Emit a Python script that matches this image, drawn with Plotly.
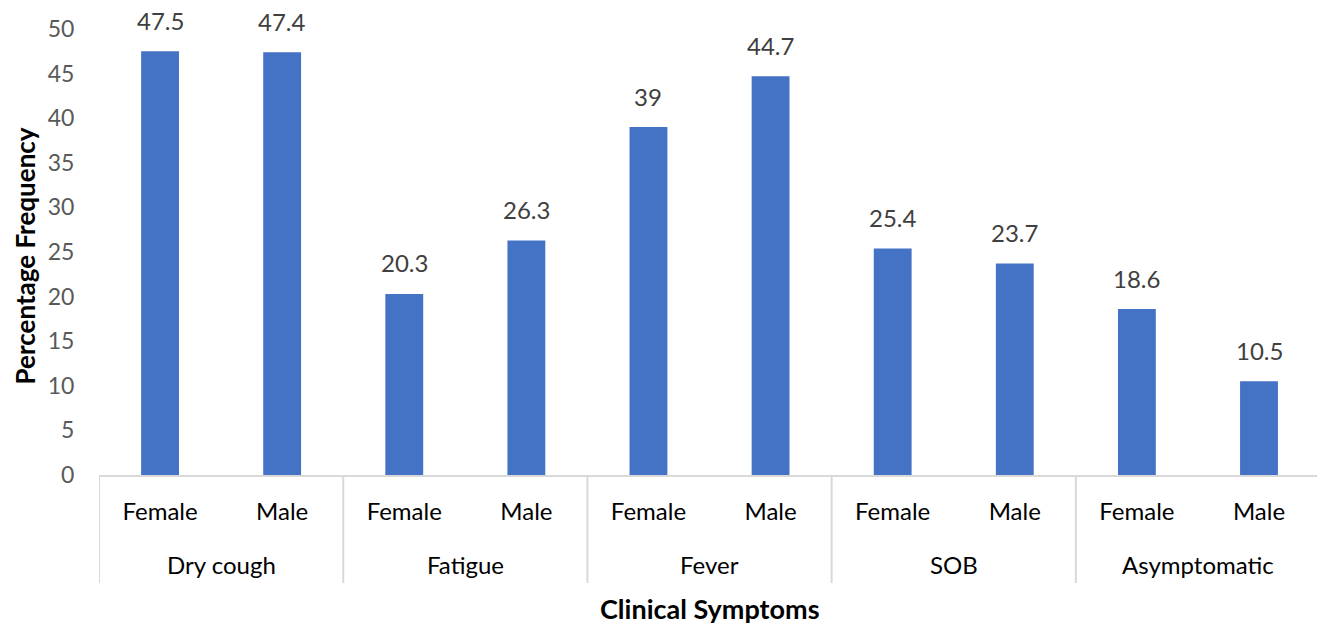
import plotly.graph_objects as go

symptoms = ["Dry cough", "Fatigue", "Fever", "SOB", "Asymptomatic"]
genders = ["Female", "Male"]
values = [47.5, 47.4, 20.3, 26.3, 39, 44.7, 25.4, 23.7, 18.6, 10.5]
y_ticks = list(range(0, 55, 5))

n_g = len(genders)
x_pos = list(range(len(values)))
x_text = [g for _ in symptoms for g in genders]
labels = [f"{v:g}" for v in values]

FONT = "Lato"
W, H = 1317, 625
ML, MT, MB = 99, 29, 150
plot_h = H - MT - MB

fig = go.Figure(go.Bar(
    x=x_pos, y=values,
    marker=dict(color="#4472C4", line=dict(width=0)),
    width=0.31, hoverinfo="y",
))

ann = []
# data labels
for x, v, t in zip(x_pos, values, labels):
    ann.append(dict(x=x, y=v, xref="x", yref="y", text=t, showarrow=False,
                    yanchor="middle", yshift=31,
                    font=dict(family=FONT, size=24, color="#404040")))
# group labels
for i, s in enumerate(symptoms):
    ann.append(dict(x=i * n_g + (n_g - 1) / 2, y=0, xref="x", yref="paper",
                    text=s, showarrow=False, yanchor="middle", yshift=-89,
                    font=dict(family=FONT, size=24, color="#000000")))
# axis titles
ann.append(dict(x=(len(values) - 1) / 2, y=0, xref="x", yref="paper",
                text="<b>Clinical Symptoms</b>", showarrow=False, yanchor="middle",
                yshift=-133, font=dict(family=FONT, size=27, color="#000000")))
ann.append(dict(x=0, y=0.49, xref="paper", yref="paper", textangle=-90,
                text="<b>Percentage Frequency</b>", showarrow=False,
                xanchor="center", yanchor="middle", xshift=-74,
                font=dict(family=FONT, size=26, color="#000000")))

shapes = []
div_len = 108 / plot_h
for i in range(len(symptoms) + 1):
    xd = i * n_g - 0.5
    shapes.append(dict(type="line", xref="x", yref="paper", x0=xd, x1=xd,
                       y0=0, y1=-div_len, line=dict(color="#D9D9D9", width=2)))

fig.update_layout(
    width=W, height=H,
    margin=dict(l=ML, r=0, t=MT, b=MB),
    paper_bgcolor="white", plot_bgcolor="white",
    showlegend=False,
    font=dict(family=FONT),
    annotations=ann, shapes=shapes,
    xaxis=dict(
        range=[-0.5, 9.475], tickvals=x_pos, ticktext=x_text,
        showline=True, linecolor="#D9D9D9", linewidth=2,
        ticks="outside", ticklen=14, tickcolor="rgba(0,0,0,0)",
        tickfont=dict(family=FONT, size=24, color="#000000"),
        showgrid=False, zeroline=False,
    ),
    yaxis=dict(
        range=[0, 50], tickvals=y_ticks, showgrid=False, zeroline=False, showline=False,
        ticks="outside", ticklen=19, tickcolor="rgba(0,0,0,0)",
        tickfont=dict(family=FONT, size=23, color="#595959"),
    ),
)

fig.write_html("out.html", config={"displayModeBar": False},
               post_script="document.body.style.margin='0';")
